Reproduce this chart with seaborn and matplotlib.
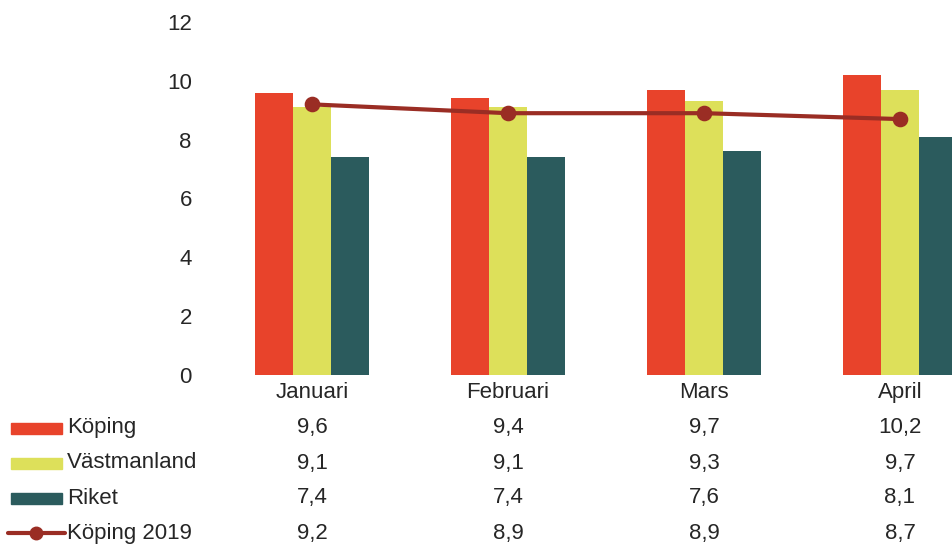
import pandas as pd
import matplotlib.pyplot as plt
import seaborn as sns
from matplotlib.patches import Rectangle
from matplotlib.lines import Line2D

# %% data
months = ['Januari', 'Februari', 'Mars', 'April']
koping = [9.6, 9.4, 9.7, 10.2]
vastmanland = [9.1, 9.1, 9.3, 9.7]
riket = [7.4, 7.4, 7.6, 8.1]
koping_2019 = [9.2, 8.9, 8.9, 8.7]

series = ['Köping', 'Västmanland', 'Riket']
colors = ['#e8432b', '#dde05a', '#2b5b5d']
line_color = '#9a2d24'

df = pd.DataFrame({'month': months * 3,
                   'value': koping + vastmanland + riket,
                   'serie': [s for s in series for _ in months]})

# %% plot
sns.set_style('white')
plt.rcParams['font.family'] = ['Liberation Sans', 'DejaVu Sans']
fs = 16

W, H = 953, 547
fig = plt.figure(figsize=(W / 100, H / 100), dpi=100)
ax = fig.add_axes([214 / W, 172 / H, 784 / W, 353 / H])

sns.barplot(data=df, x='month', y='value', hue='serie', order=months,
            hue_order=series, palette=colors, width=0.58, saturation=1,
            linewidth=0, ax=ax, legend=False)
sns.pointplot(x=months, y=koping_2019, color=line_color, ax=ax,
              markers='o', markersize=9, linewidth=3)

ax.set_xlim(-0.5, 3.5)
ax.set_ylim(0, 12)
ax.set_yticks(range(0, 13, 2))
ax.tick_params(axis='y', labelsize=fs, length=0, pad=16)
ax.tick_params(axis='x', labelsize=fs, length=0, pad=5)
ax.set_xlabel(None)
ax.set_ylabel(None)
for sp in ax.spines.values():
    sp.set_visible(False)

# data table under the chart
rows = [koping, vastmanland, riket, koping_2019]
row_y = [428, 463, 498, 533]
fmt = lambda v: f'{v:.1f}'.replace('.', ',')
trans = ax.get_xaxis_transform()
for vals, yp in zip(rows, row_y):
    yy = (H - yp - 172) / 353
    for i, v in enumerate(vals):
        ax.text(i, yy, fmt(v), transform=trans, ha='center', va='center',
                fontsize=fs, clip_on=False)

# legend keys in front of each row
labels = series + ['Köping 2019']
for k, (lab, yp) in enumerate(zip(labels, row_y)):
    yf = (H - yp) / H
    if k < 3:
        fig.add_artist(Rectangle((11 / W, yf - 5.5 / H), 51 / W, 11 / H,
                                 color=colors[k], transform=fig.transFigure))
    else:
        fig.add_artist(Line2D([8 / W, 65 / W], [yf, yf], color=line_color,
                              lw=3, transform=fig.transFigure))
        fig.add_artist(Line2D([36 / W], [yf], color=line_color, marker='o',
                              ms=9, transform=fig.transFigure))
    fig.text(67 / W, yf, lab, ha='left', va='center', fontsize=fs)

plt.savefig('out.png', dpi=100)
